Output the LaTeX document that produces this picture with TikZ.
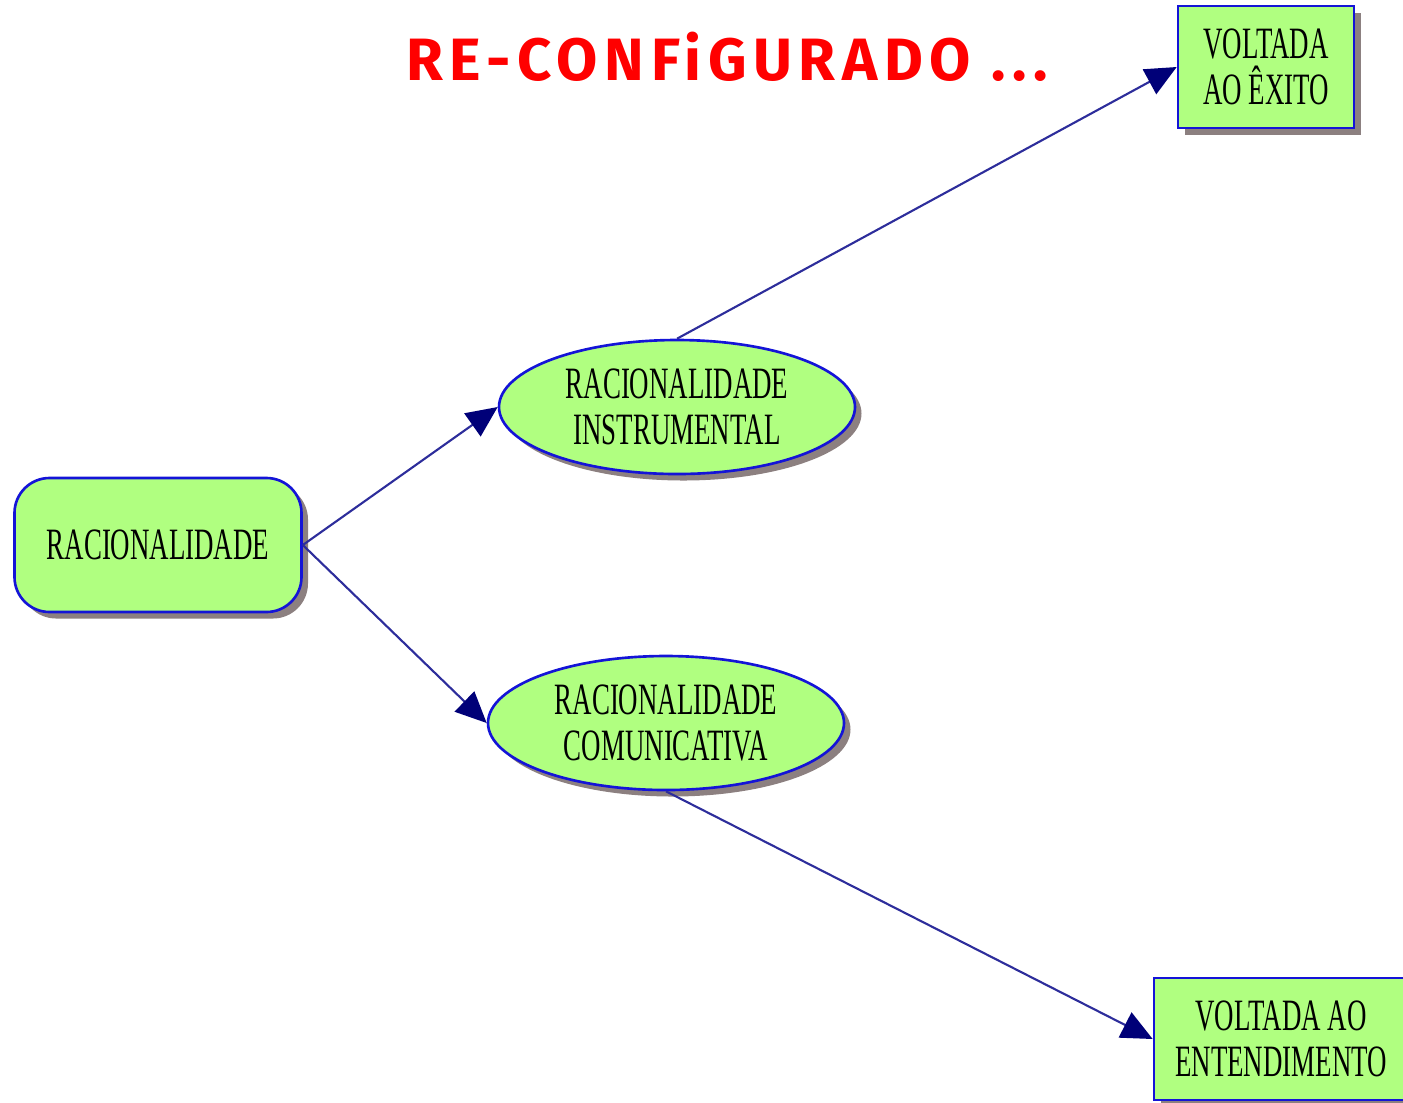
\documentclass[tikz,border=0pt]{standalone}
\usepackage{fontspec}
\setmainfont{Liberation Serif}
\newfontfamily\narrowserif[FakeStretch=0.6]{Liberation Serif}
\newfontfamily\handfont[LetterSpace=11]{Fira Sans}
\usetikzlibrary{shapes,arrows.meta,positioning,shadows}
\definecolor{boxgreen}{RGB}{176,255,128}
\definecolor{boxblue}{RGB}{20,20,215}
\definecolor{linknavy}{RGB}{45,45,155}
\definecolor{headnavy}{RGB}{0,0,120}
\definecolor{shadowgrey}{RGB}{140,128,128}
\definecolor{penred}{RGB}{255,0,0}
\tikzstyle{base} = [draw=boxblue, line width=1.5pt, fill=boxgreen, text=black, align=center, font=\narrowserif\fontsize{25.5}{26}\selectfont, drop shadow={shadow xshift=0.13cm, shadow yshift=-0.13cm, fill=shadowgrey, opacity=1}]
\tikzstyle{start} = [base, rectangle, rounded corners=0.7cm, minimum width=5.74cm, minimum height=2.68cm]
\tikzstyle{kind} = [base, ellipse, minimum width=7.12cm, minimum height=2.68cm, inner sep=0pt]
\tikzstyle{goal} = [base, rectangle, minimum height=2.44cm, inner sep=2pt]
\tikzstyle{link} = [draw=linknavy, line width=1.2pt, -{Triangle[length=0.62cm,width=0.56cm,fill=headnavy,color=headnavy]}]

\begin{document}
\begin{tikzpicture}[node distance=4cm, on grid]
\useasboundingbox (0,0) rectangle (28.06,-22.04);
\node [start] (Racional) at (3.16,-10.9) {RACIONALIDADE};
\node [kind, above right=2.76cm and 10.38cm of Racional] (Instrumental) {RACIONALIDADE\\INSTRUMENTAL};
\node [kind, below right=3.56cm and 10.16cm of Racional] (Comunicativa) {RACIONALIDADE\\COMUNICATIVA};
\node [goal, minimum width=3.52cm, above right=6.8cm and 11.78cm of Instrumental] (Exito) {VOLTADA\\AO ÊXITO};
\node [goal, minimum width=5.08cm, below right=6.32cm and 12.3cm of Comunicativa] (Entendimento) {VOLTADA AO\\ENTENDIMENTO};

% titulo escrito a mao
\node [text=penred, font=\handfont\bfseries\fontsize{34}{36}\selectfont] (Titulo) at (14.54,-1.14) {RE-CONFiGURADO ...};

\draw [link] (Racional.east) -- (Instrumental.west);
\draw [link] (Racional.east) -- (Comunicativa.west);
\draw [link] (Instrumental.north) -- (Exito.west);
\draw [link] (Comunicativa.south) -- (Entendimento.west);

\end{tikzpicture}
\end{document}
